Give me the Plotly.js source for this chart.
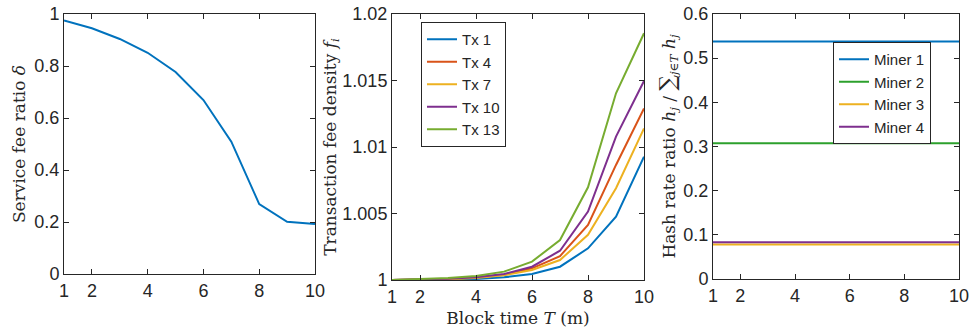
<!DOCTYPE html>
<html>
<head>
<meta charset="utf-8">
<script src="https://cdn.plot.ly/plotly-3.0.1.min.js"></script>
<style>html,body{margin:0;padding:0;background:#fff;}#chart{width:969px;height:332px;}</style>
</head>
<body>
<div id="chart"></div>
<script>
// Block time T (minutes)
const blockTime = [1, 2, 3, 4, 5, 6, 7, 8, 9, 10];

// Panel 1: service fee ratio delta
const serviceFeeRatio = [0.975, 0.945, 0.904, 0.851, 0.777, 0.669, 0.509, 0.269, 0.201, 0.192];

// Panel 2: transaction fee density f_i
const tx1  = [1, 1.00001, 1.00003, 1.00008, 1.0002, 1.00045, 1.0010, 1.00238, 1.00476, 1.00927];
const tx4  = [1, 1.00002, 1.00008, 1.00018, 1.0004, 1.00088, 1.0018, 1.00414, 1.00865, 1.0129];
const tx7  = [1, 1.00002, 1.00006, 1.00015, 1.00035, 1.00075, 1.0015, 1.0034, 1.0069, 1.0114];
const tx10 = [1, 1.00003, 1.0001, 1.0002, 1.00045, 1.0010, 1.0022, 1.00514, 1.01078, 1.01496];
const tx13 = [1, 1.00005, 1.00015, 1.0003, 1.00063, 1.00138, 1.00301, 1.00697, 1.01404, 1.01855];
const txNames = ['Tx 1', 'Tx 4', 'Tx 7', 'Tx 10', 'Tx 13'];

// Panel 3: hash rate ratio
const miner1 = [0.538, 0.538, 0.538, 0.538, 0.538, 0.538, 0.538, 0.538, 0.538, 0.538];
const miner2 = [0.3075, 0.3075, 0.3075, 0.3075, 0.3075, 0.3075, 0.3075, 0.3075, 0.3075, 0.3075];
const miner3 = [0.078, 0.078, 0.078, 0.078, 0.078, 0.078, 0.078, 0.078, 0.078, 0.078];
const miner4 = [0.083, 0.083, 0.083, 0.083, 0.083, 0.083, 0.083, 0.083, 0.083, 0.083];
const minerNames = ['Miner 1', 'Miner 2', 'Miner 3', 'Miner 4'];

const xTicks = [1, 2, 4, 6, 8, 10];
const y1Ticks = [0, 0.2, 0.4, 0.6, 0.8, 1];
const y1Labels = ['0', '0.2', '0.4', '0.6', '0.8', '1'];
const y2Ticks = [1, 1.005, 1.01, 1.015, 1.02];
const y2Labels = ['1', '1.005', '1.01', '1.015', '1.02'];
const y3Ticks = [0, 0.1, 0.2, 0.3, 0.4, 0.5, 0.6];
const y3Labels = ['0', '0.1', '0.2', '0.3', '0.4', '0.5', '0.6'];

const C = {blue:'#0072BD', orange:'#D95319', yellow:'#EDB120', purple:'#7E2F8E', green:'#77AC30', green2:'#2CA02C'};
const LW = 2;

const traces = [
  {x: blockTime, y: serviceFeeRatio, xaxis:'x', yaxis:'y', mode:'lines', line:{color:C.blue, width:LW}, showlegend:false},
  {x: blockTime, y: tx1,  xaxis:'x2', yaxis:'y2', mode:'lines', name: txNames[0], line:{color:C.blue, width:LW}, legend:'legend'},
  {x: blockTime, y: tx4,  xaxis:'x2', yaxis:'y2', mode:'lines', name: txNames[1], line:{color:C.orange, width:LW}, legend:'legend'},
  {x: blockTime, y: tx7,  xaxis:'x2', yaxis:'y2', mode:'lines', name: txNames[2], line:{color:C.yellow, width:LW}, legend:'legend'},
  {x: blockTime, y: tx10, xaxis:'x2', yaxis:'y2', mode:'lines', name: txNames[3], line:{color:C.purple, width:LW}, legend:'legend'},
  {x: blockTime, y: tx13, xaxis:'x2', yaxis:'y2', mode:'lines', name: txNames[4], line:{color:C.green, width:LW}, legend:'legend'},
  {x: blockTime, y: miner1, xaxis:'x3', yaxis:'y3', mode:'lines', name: minerNames[0], line:{color:C.blue, width:LW}, legend:'legend2'},
  {x: blockTime, y: miner2, xaxis:'x3', yaxis:'y3', mode:'lines', name: minerNames[1], line:{color:C.green2, width:LW}, legend:'legend2'},
  {x: blockTime, y: miner3, xaxis:'x3', yaxis:'y3', mode:'lines', name: minerNames[2], line:{color:C.yellow, width:LW}, legend:'legend2'},
  {x: blockTime, y: miner4, xaxis:'x3', yaxis:'y3', mode:'lines', name: minerNames[3], line:{color:C.purple, width:LW}, legend:'legend2'}
];

const W = 969, H = 332;
const sansFam = '"Liberation Sans", Arial, sans-serif';
const tickFont = {family:sansFam, size:18, color:'#262626'};
const titleFont = {family:'"DejaVu Serif", "Liberation Serif", serif', size:17, color:'#262626'};

function xax(x0, x1, extra) {
  return Object.assign({
    domain:[x0/W, x1/W], range:[1, 10], tickvals:xTicks, ticktext:xTicks.map(String),
    showline:true, linecolor:'#262626', linewidth:1, mirror:'ticks', ticks:'inside', ticklen:5, tickcolor:'#262626',
    showgrid:false, zeroline:false, tickfont:tickFont, fixedrange:true, ticklabeloverflow:'allow'
  }, extra || {});
}
function yax(y0, y1, range, tv, tt, title, standoff, anchor) {
  return {
    domain:[(H-y1)/H, (H-y0)/H], range:range, tickvals:tv, ticktext:tt, anchor:anchor,
    showline:true, linecolor:'#262626', linewidth:1, mirror:'ticks', ticks:'inside', ticklen:5, tickcolor:'#262626',
    showgrid:false, zeroline:false, tickfont:tickFont, fixedrange:true,
    title:{text:title, font:titleFont, standoff:standoff}
  };
}

const legendStyle = {
  xanchor:'left', yanchor:'top',
  bgcolor:'#fff', bordercolor:'#262626', borderwidth:1,
  font:{family:sansFam, size:15, color:'#262626'},
  tracegroupgap:0, itemwidth:30
};

const layout = {
  width: W, height: H,
  margin:{l:0, r:0, t:0, b:0},
  paper_bgcolor:'#fff', plot_bgcolor:'#fff',
  xaxis: xax(64, 315, {anchor:'y'}),
  yaxis: yax(14, 274, [0, 1], y1Ticks, y1Labels, 'Service fee ratio <i>δ</i>', 4, 'x'),
  xaxis2: xax(392, 644, {anchor:'y2', title:{text:'Block time <i>T</i> (m)', font:titleFont, standoff:6}}),
  yaxis2: yax(14, 280, [1, 1.02], y2Ticks, y2Labels, 'Transaction fee density <i>f<sub>i</sub></i>', 0, 'x2'),
  xaxis3: xax(713, 959, {anchor:'y3'}),
  yaxis3: yax(14, 279, [0, 0.6], y3Ticks, y3Labels, 'Hash rate ratio <i>h<sub>j</sub></i> / <span style="font-size:22px">∑</span><sub><i>j</i>∈<i>T</i></sub> <i>h<sub>j</sub></i>', 3, 'x3'),
  legend: Object.assign({x: 421/W, y: (H-22)/H}, legendStyle),
  legend2: Object.assign({x: 833/W, y: (H-42)/H}, legendStyle)
};

Plotly.newPlot('chart', traces, layout, {displayModeBar:false, staticPlot:true});
</script>
</body>
</html>
